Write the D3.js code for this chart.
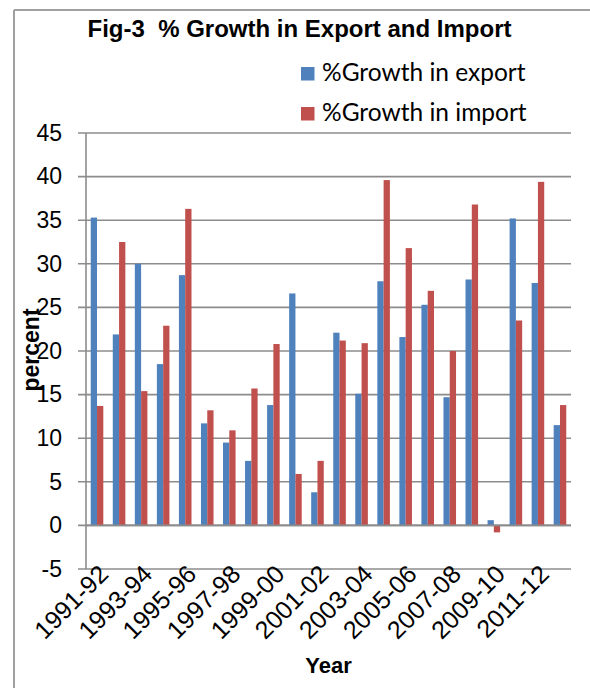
<!DOCTYPE html>
<html>
<head>
<meta charset="utf-8">
<script src="https://cdn.jsdelivr.net/npm/d3@7"></script>
<style>
  html, body { margin: 0; padding: 0; background: #fff; }
  svg { display: block; }
</style>
</head>
<body>
<svg id="chart" width="590" height="688"></svg>
<script>
const categories = ["1991-92","1992-93","1993-94","1994-95","1995-96","1996-97","1997-98","1998-99","1999-00","2000-01","2001-02","2002-03","2003-04","2004-05","2005-06","2006-07","2007-08","2008-09","2009-10","2010-11","2011-12","2012-13"];
const exportGrowth = [35.3, 21.9, 30.0, 18.5, 28.7, 11.7, 9.5, 7.4, 13.8, 26.6, 3.8, 22.1, 15.1, 28.0, 21.6, 25.3, 14.7, 28.2, 0.6, 35.2, 27.8, 11.5];
const importGrowth = [13.7, 32.5, 15.4, 22.9, 36.3, 13.2, 10.9, 15.7, 20.8, 5.9, 7.4, 21.2, 20.9, 39.6, 31.8, 26.9, 20.0, 36.8, -0.8, 23.5, 39.4, 13.8];
const seriesNames = ["%Growth in export", "%Growth in import"];
const seriesColors = ["#4F81BD", "#C0504D"];
const yTicks = [-5, 0, 5, 10, 15, 20, 25, 30, 35, 40, 45];
const xLabels = categories.filter((d, i) => i % 2 === 0);

(function () {
const svg = d3.select("#chart");
const pLeft = 86, pRight = 571, pTop = 133, pBottom = 569;

// border frame
svg.append("line").attr("x1", 14).attr("x2", 590).attr("y1", 10).attr("y2", 10)
  .attr("stroke", "#a0a0a0").attr("stroke-width", 2);
svg.append("line").attr("x1", 14).attr("x2", 14).attr("y1", 10).attr("y2", 688)
  .attr("stroke", "#a0a0a0").attr("stroke-width", 2);

const x0 = d3.scaleBand().domain(categories).range([pLeft, pRight]).paddingInner(0.43).paddingOuter(0.215);
const x1 = d3.scaleBand().domain([0, 1]).range([0, x0.bandwidth()]);
const y = d3.scaleLinear().domain([-5, 45]).range([pBottom, pTop]);

// gridlines
svg.append("g").selectAll("line").data(yTicks).join("line")
  .attr("x1", pLeft - 8).attr("x2", pRight)
  .attr("y1", d => y(d)).attr("y2", d => y(d))
  .attr("stroke", "#8c8c8c").attr("stroke-width", 1.6);

// y tick labels via axis
const yAxis = svg.append("g").attr("transform", `translate(${pLeft - 8},0)`)
  .call(d3.axisLeft(y).tickValues(yTicks).tickSize(0).tickPadding(16).tickFormat(d => String(d)));
yAxis.select(".domain").remove();
yAxis.selectAll("text").attr("font-family", "Liberation Sans, Arial, sans-serif")
  .attr("font-size", 23).attr("fill", "#000");

// bars
const data = categories.map((c, i) => ({ c, v: [exportGrowth[i], importGrowth[i]] }));
const groups = svg.append("g").selectAll("g").data(data).join("g")
  .attr("transform", d => `translate(${x0(d.c)},0)`);
groups.selectAll("rect").data(d => d.v.map((v, k) => ({ v, k }))).join("rect")
  .attr("x", d => x1(d.k))
  .attr("width", x1.bandwidth())
  .attr("y", d => y(Math.max(0, d.v)))
  .attr("height", d => Math.abs(y(d.v) - y(0)))
  .attr("fill", d => seriesColors[d.k]);

// y axis line
svg.append("line").attr("x1", pLeft).attr("x2", pLeft).attr("y1", pTop).attr("y2", pBottom)
  .attr("stroke", "#8c8c8c").attr("stroke-width", 1.6);
// zero line
svg.append("line").attr("x1", pLeft).attr("x2", pRight).attr("y1", y(0)).attr("y2", y(0))
  .attr("stroke", "#8c8c8c").attr("stroke-width", 1.6);

// x labels
svg.append("g").selectAll("text").data(xLabels).join("text")
  .attr("transform", d => `translate(${x0(d) + x0.bandwidth() / 2},${pBottom - 6}) rotate(-45)`)
  .attr("text-anchor", "end")
  .attr("dy", "0.72em")
  .attr("font-family", "Liberation Sans, Arial, sans-serif")
  .attr("font-size", 25)
  .attr("fill", "#000")
  .text(d => d);

// title
svg.append("text").attr("x", 299.5).attr("y", 37).attr("text-anchor", "middle")
  .attr("font-family", "Liberation Sans, Arial, sans-serif").attr("font-weight", "bold")
  .attr("font-size", 24).attr("xml:space", "preserve")
  .text("Fig-3  % Growth in Export and Import");

// legend
const legend = svg.append("g").selectAll("g").data(seriesNames).join("g")
  .attr("transform", (d, i) => `translate(301,${81 + i * 40})`);
legend.append("rect").attr("x", 0).attr("y", -14).attr("width", 13.5).attr("height", 13.5)
  .attr("fill", (d, i) => seriesColors[i]);
legend.append("text").attr("x", 21).attr("y", 0)
  .attr("font-family", "Lato, 'Open Sans', sans-serif").attr("font-size", 24.5)
  .attr("fill", "#000").text(d => d);

// axis titles
svg.append("text").attr("transform", "translate(39,350) rotate(-90)")
  .attr("text-anchor", "middle")
  .attr("font-family", "Liberation Sans, Arial, sans-serif").attr("font-weight", "bold")
  .attr("font-size", 23).text("percent");
svg.append("text").attr("x", (pLeft + pRight) / 2).attr("y", 673).attr("text-anchor", "middle")
  .attr("font-family", "Liberation Sans, Arial, sans-serif").attr("font-weight", "bold")
  .attr("font-size", 22).text("Year");
})();
</script>
</body>
</html>
